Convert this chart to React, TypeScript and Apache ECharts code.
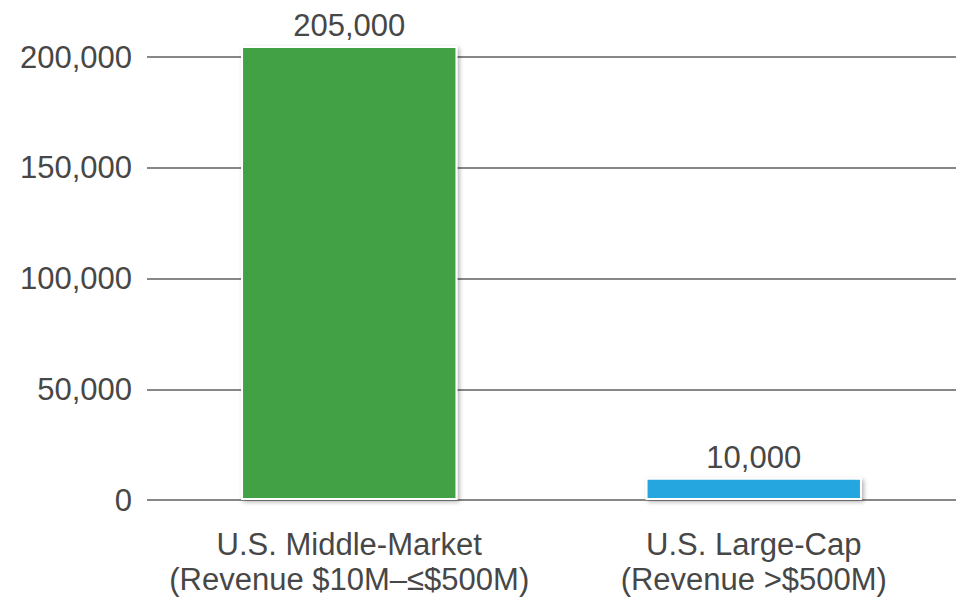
import React, { useEffect, useRef } from "react";
import * as echarts from "echarts";

const categories = [
  "U.S. Middle-Market\n(Revenue $10M–≤$500M)",
  "U.S. Large-Cap\n(Revenue >$500M)",
];
const values = [205000, 10000];
const barColors = ["#43a045", "#27a6df"];
const yTicks = [0, 50000, 100000, 150000, 200000];

const fmt = (v: number) => v.toLocaleString("en-US");

export default function App() {
  const ref = useRef<HTMLDivElement>(null);
  useEffect(() => {
    if (!ref.current) return;
    const chart = echarts.init(ref.current, undefined, { renderer: "svg" });
    const font = "'Liberation Sans', Arial, Helvetica, sans-serif";
    chart.setOption({
      animation: false,
      backgroundColor: "#ffffff",
      grid: { left: 147, right: 5, top: 57, bottom: 98, containLabel: false },
      xAxis: {
        type: "category",
        data: categories,
        axisLine: { show: false },
        axisTick: { show: false },
        axisLabel: {
          interval: 0,
          color: "#474747",
          fontFamily: font,
          fontSize: 31,
          lineHeight: 35,
          margin: 27,
        },
      },
      yAxis: {
        type: "value",
        min: yTicks[0],
        max: yTicks[yTicks.length - 1],
        interval: yTicks[1] - yTicks[0],
        axisLine: { show: false },
        axisTick: { show: false },
        axisLabel: {
          color: "#474747",
          fontFamily: font,
          fontSize: 31,
          margin: 15,
          formatter: (v: number) => fmt(v),
        },
        splitLine: { lineStyle: { color: "#5f5f5f", width: 1.6 } },
      },
      series: [
        {
          type: "bar",
          clip: false,
          barWidth: "53.5%",
          data: values.map((v, i) => ({
            value: v,
            itemStyle: { color: barColors[i] },
          })),
          itemStyle: {
            borderColor: "#ffffff",
            borderWidth: 2,
            shadowBlur: 4,
            shadowColor: "rgba(0,0,0,0.3)",
            shadowOffsetX: 2,
            shadowOffsetY: 2,
          },
          label: {
            show: true,
            position: "top",
            distance: 5,
            color: "#474747",
            fontFamily: font,
            fontSize: 31,
            formatter: (p: any) => fmt(p.value),
          },
        },
      ],
    });
    return () => chart.dispose();
  }, []);
  return (
    <div
      ref={ref}
      style={{ position: "absolute", left: 0, top: 0, width: 961, height: 598 }}
    />
  );
}
